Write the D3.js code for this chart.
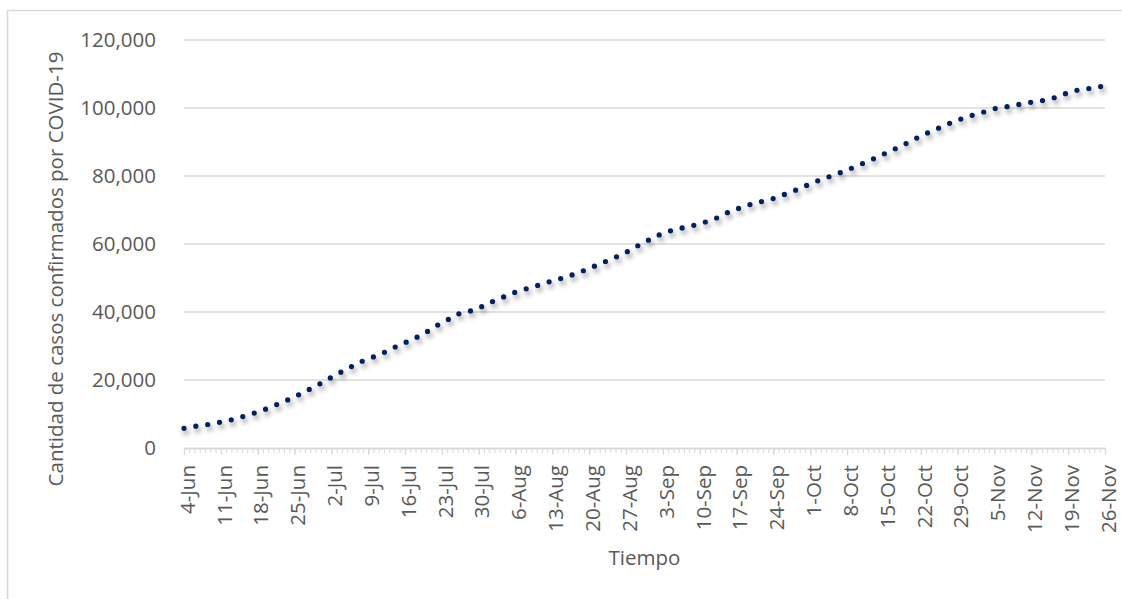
<!DOCTYPE html>
<html>
<head>
<meta charset="utf-8">
<script src="https://cdn.jsdelivr.net/npm/d3@7"></script>
<style>
  html, body { margin: 0; padding: 0; background: #fff; }
  svg { display: block; }
  text { font-family: "Open Sans", sans-serif; fill: #595959; }
</style>
</head>
<body>
<svg id="chart" width="1122" height="599"></svg>
<script>
// ---- Data ----
const startDate = new Date(2020, 5, 4);   // 4-Jun
const endDate = new Date(2020, 10, 26);   // 26-Nov
const categories = d3.timeDay.range(startDate, d3.timeDay.offset(endDate, 1)); // daily categories

const casos = [
  5800, 6050, 6350, 6600, 6800, 7030, 7300, 7620, 7950, 8280,
  8700, 9150, 9700, 10150, 10500, 11100, 11750, 12400, 13000, 13650,
  14350, 15050, 15800, 16600, 17400, 18200, 19000, 19900, 20800, 21700,
  22450, 23200, 24100, 24950, 25600, 26200, 26800, 27500, 28100, 28700,
  29600, 30400, 31000, 31600, 32400, 33100, 34000, 35100, 36000, 36800,
  37600, 38500, 39400, 39700, 40100, 40600, 41150, 41900, 42700, 43300,
  43950, 44600, 45250, 45850, 46350, 46800, 47250, 47700, 48250, 48700,
  49200, 49600, 50000, 50550, 51050, 51600, 52200, 52850, 53500, 54200,
  54800, 55450, 56100, 56850, 57550, 58400, 59300, 60100, 60900, 61800,
  62500, 63100, 63650, 64150, 64500, 64850, 65200, 65550, 66000, 66450,
  66900, 67500, 68200, 69000, 69800, 70300, 70750, 71300, 71850, 72300,
  72550, 72900, 73400, 73950, 74550, 75150, 75700, 76300, 77000, 77750,
  78300, 78950, 79500, 80000, 80550, 81150, 81750, 82400, 83050, 83700,
  84350, 85050, 85750, 86500, 87150, 87900, 88650, 89400, 90150, 91000,
  91750, 92500, 93100, 93800, 94500, 95200, 95800, 96400, 96950, 97500,
  97950, 98400, 98850, 99300, 99800, 100000, 100250, 100600, 100900, 101150,
  101450, 101700, 101900, 102150, 102500, 102850, 103350, 103950, 104500, 104950,
  105350, 105550, 105750, 105950, 106250, 106550
];

const xTickLabels = [
  "4-Jun", "11-Jun", "18-Jun", "25-Jun", "2-Jul", "9-Jul", "16-Jul", "23-Jul",
  "30-Jul", "6-Aug", "13-Aug", "20-Aug", "27-Aug", "3-Sep", "10-Sep", "17-Sep",
  "24-Sep", "1-Oct", "8-Oct", "15-Oct", "22-Oct", "29-Oct", "5-Nov", "12-Nov",
  "19-Nov", "26-Nov"
];
const yTicks = [0, 20000, 40000, 60000, 80000, 100000, 120000];

const yTitle = "Cantidad de casos confirmados por COVID-19";
const xTitle = "Tiempo";

// ---- Layout ----
const svg = d3.select("#chart");
const plot = { left: 184, right: 1105, top: 40, bottom: 448 };

const x = d3.scaleTime().domain([startDate, endDate]).range([plot.left, plot.right]);
const y = d3.scaleLinear().domain([0, 120000]).range([plot.bottom, plot.top]);

const series = categories.map((d, i) => ({ date: d, value: casos[i] }));
const majorDates = categories.filter((d, i) => i % 7 === 0);

// Chart area border
svg.append("rect")
  .attr("x", 7.5).attr("y", 10.5)
  .attr("width", 1130).attr("height", 600)
  .attr("fill", "none")
  .attr("stroke", "#d9d9d9")
  .attr("stroke-width", 1.5);

// Gridlines
svg.append("g")
  .selectAll("line")
  .data(yTicks.filter(t => t > 0))
  .join("line")
  .attr("x1", plot.left).attr("x2", plot.right)
  .attr("y1", d => y(d)).attr("y2", d => y(d))
  .attr("stroke", "#d9d9d9")
  .attr("stroke-width", 1.3);

// Y axis (labels only)
const yAxis = svg.append("g")
  .attr("transform", `translate(${plot.left},0)`)
  .call(d3.axisLeft(y).tickValues(yTicks).tickFormat(d3.format(",")).tickSize(0).tickPadding(28));
yAxis.select(".domain").remove();
yAxis.selectAll("text")
  .attr("font-size", "20.5px")
  .style("font-family", "'Open Sans', sans-serif")
  .attr("fill", "#595959");

// X axis: minor daily ticks
const xMinor = svg.append("g")
  .attr("transform", `translate(0,${plot.bottom})`)
  .call(d3.axisBottom(x).tickValues(categories).tickFormat("").tickSize(5).tickSizeOuter(0));
xMinor.select(".domain").attr("stroke", "#d9d9d9").attr("stroke-width", 2);
xMinor.selectAll(".tick line").attr("stroke", "#d9d9d9").attr("stroke-width", 1);

// X axis: major weekly ticks + labels
const xMajor = svg.append("g")
  .attr("transform", `translate(0,${plot.bottom})`)
  .call(d3.axisBottom(x).tickValues(majorDates)
    .tickFormat((d, i) => xTickLabels[i]).tickSize(7).tickSizeOuter(0));
xMajor.select(".domain").remove();
xMajor.selectAll(".tick line").attr("stroke", "#d9d9d9").attr("stroke-width", 1.3);
xMajor.selectAll(".tick text")
  .attr("font-size", "20.5px")
  .style("font-family", "'Open Sans', sans-serif")
  .attr("fill", "#595959")
  .attr("text-anchor", "end")
  .attr("transform", "rotate(-90)")
  .attr("x", -17)
  .attr("y", 0)
  .attr("dy", "0.5em");

// Shadow filter
const defs = svg.append("defs");
const f = defs.append("filter").attr("id", "shadow")
  .attr("x", "-5%").attr("y", "-5%").attr("width", "110%").attr("height", "120%");
f.append("feDropShadow")
  .attr("dx", 2).attr("dy", 3.5).attr("stdDeviation", 2.5)
  .attr("flood-color", "#000").attr("flood-opacity", 0.45);

// Line
const line = d3.line().x(d => x(d.date)).y(d => y(d.value)).curve(d3.curveLinear);
svg.append("path")
  .datum(series)
  .attr("d", line)
  .attr("fill", "none")
  .attr("stroke", "#002060")
  .attr("stroke-width", 5.2)
  .attr("stroke-linecap", "round")
  .attr("stroke-dasharray", "0 12")
  .attr("filter", "url(#shadow)");

// Axis titles
svg.append("text")
  .attr("transform", `translate(63,269) rotate(-90)`)
  .attr("text-anchor", "middle")
  .attr("font-size", "20.5px")
  .text(yTitle);

svg.append("text")
  .attr("x", (plot.left + plot.right) / 2)
  .attr("y", 565)
  .attr("text-anchor", "middle")
  .attr("font-size", "20.5px")
  .text(xTitle);
</script>
</body>
</html>
